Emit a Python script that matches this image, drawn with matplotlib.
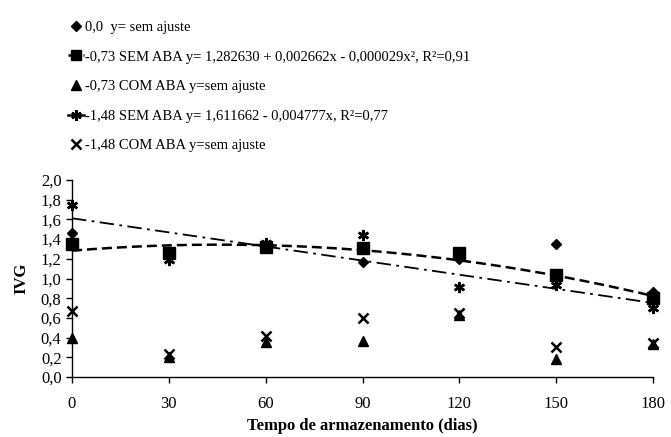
import numpy as np
import matplotlib.pyplot as plt
from matplotlib.ticker import FuncFormatter

plt.rcParams['font.family'] = ['Liberation Serif', 'DejaVu Serif']

# Storage time (days)
dias = [0, 30, 60, 90, 120, 150, 180]

# IVG values per treatment
ivg_00 = [1.46, 1.24, 1.32, 1.17, 1.20, 1.35, 0.86]
ivg_073_sem = [1.35, 1.26, 1.32, 1.31, 1.26, 1.04, 0.80]
ivg_073_com = [0.40, 0.20, 0.36, 0.37, 0.63, 0.18, 0.33]
ivg_148_sem = [1.75, 1.19, 1.36, 1.44, 0.91, 0.93, 0.70]
ivg_148_com = [0.67, 0.23, 0.42, 0.60, 0.65, 0.30, 0.35]

# regression coefficients given in the legend (highest power first)
coef_073_sem = [-0.000029, 0.002662, 1.282630]
coef_148_sem = [-0.004777, 1.611662]

labels = [
    '0,0  y= sem ajuste',
    '-0,73 SEM ABA y= 1,282630 + 0,002662x - 0,000029x², R²=0,91',
    '-0,73 COM ABA y=sem ajuste',
    '-1,48 SEM ABA y= 1,611662 - 0,004777x, R²=0,77',
    '-1,48 COM ABA y=sem ajuste',
]

fig = plt.figure(figsize=(6.71, 4.37), dpi=100)
ax = fig.add_axes([72 / 671, 1 - 377 / 437, (653 - 72) / 671, (377 - 180) / 437])

xs = np.linspace(0, 180, 200)
ax.plot(xs, np.polyval(coef_073_sem, xs), color='black', ls=(0, (4, 2)), lw=1.8)
ax.plot(xs, np.polyval(coef_148_sem, xs), color='black', ls=(0, (8, 3, 1.5, 3)), lw=1.3)

ms = 7
ax.plot(dias, ivg_00, 'D', color='black', ms=ms - 1.5, ls='none', clip_on=False)
ax.plot(dias, ivg_073_sem, 's', color='black', ms=ms + 1, ls='none', clip_on=False)
ax.plot(dias, ivg_073_com, '^', color='black', ms=ms, ls='none', clip_on=False)
ax.plot(dias, ivg_148_sem, marker=(6, 2, 0), color='black', ms=ms + 1, mew=1.8,
        ls='none', clip_on=False)
ax.plot(dias, ivg_148_com, 'x', color='black', ms=ms, mew=1.8, ls='none', clip_on=False)

ax.set_xlim(0, 180)
ax.set_ylim(0, 2.0)
ax.set_xticks(dias)
ax.set_yticks(np.arange(0, 2.01, 0.2))
ax.yaxis.set_major_formatter(FuncFormatter(lambda v, p: f'{v:.1f}'.replace('.', ',')))
ax.tick_params(labelsize=12, direction='out', length=4, width=1)
ax.tick_params(axis='x', pad=10)
for s in ['top', 'right']:
    ax.spines[s].set_visible(False)
for s in ['left', 'bottom']:
    ax.spines[s].set_linewidth(1)
ax.set_xlabel('Tempo de armazenamento (dias)', fontsize=12, fontweight='bold', labelpad=4)
ax.set_ylabel('IVG', fontsize=12, fontweight='bold', labelpad=8)

# legend handles
h = [
    plt.Line2D([], [], marker='D', color='black', ms=5.5, ls='none'),
    plt.Line2D([], [], marker='s', color='black', ms=7.5, ls=(0, (2, 1)), lw=1.8),
    plt.Line2D([], [], marker='^', color='black', ms=6.5, ls='none'),
    plt.Line2D([], [], marker=(6, 2, 0), color='black', ms=7.5, mew=1.8, ls='-', lw=1.8),
    plt.Line2D([], [], marker='x', color='black', ms=6.5, mew=1.8, ls='none'),
]
fig.legend(h, labels, loc='upper left', bbox_to_anchor=(62 / 671, 1 - 15 / 437),
           frameon=False, fontsize=10.5, handlelength=1.1, handletextpad=0.1,
           labelspacing=1.12, borderaxespad=0)

fig.savefig('out.png', dpi=100)
